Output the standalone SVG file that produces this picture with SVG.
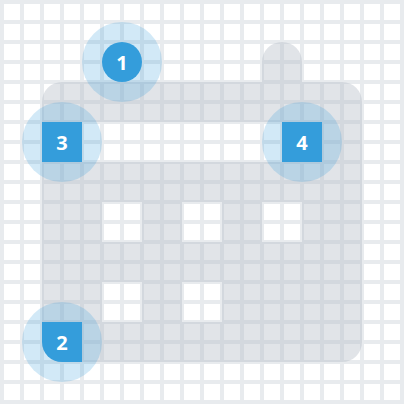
<svg xmlns="http://www.w3.org/2000/svg" width="404" height="404" viewBox="0 0 404 404">
  <defs>
    <style>
      .grid { stroke: #e8ebee; stroke-width: 4; fill: none; }
      .shape { fill: #b4bcc6; fill-opacity: 0.4; fill-rule: evenodd; }
      .halo { fill: #3399db; fill-opacity: 0.22; }
      .mark { fill: #349ddb; }
      .num { fill: #ffffff; font-family: "Open Sans", "Liberation Sans", sans-serif; font-size: 20px; font-weight: 700; text-anchor: middle; dominant-baseline: central; }
    </style>
  </defs>
  <rect width="404" height="404" fill="#ffffff"/>
  <path class="grid" d="M2,0V404M22,0V404M42,0V404M62,0V404M82,0V404M102,0V404M122,0V404M142,0V404M162,0V404M182,0V404M202,0V404M222,0V404M242,0V404M262,0V404M282,0V404M302,0V404M322,0V404M342,0V404M362,0V404M382,0V404M402,0V404M0,2H404M0,22H404M0,42H404M0,62H404M0,82H404M0,102H404M0,122H404M0,142H404M0,162H404M0,182H404M0,202H404M0,222H404M0,242H404M0,262H404M0,282H404M0,302H404M0,322H404M0,342H404M0,362H404M0,382H404M0,402H404"/>
  <path class="shape" d="M62,82 H262 V62 A20,20 0 0 1 302,62 V82 H342 A20,20 0 0 1 362,102 V342 A20,20 0 0 1 342,362 H62 A20,20 0 0 1 42,342 V102 A20,20 0 0 1 62,82 Z M82,122 H282 V162 H82 Z M102,202 H142 V242 H102 Z M182,202 H222 V242 H182 Z M262,202 H302 V242 H262 Z M102,282 H142 V322 H102 Z M182,282 H222 V322 H182 Z"/>
  <g id="connectors"></g>
  <g id="node-1">
    <circle class="halo" cx="122" cy="62" r="40"/>
    <circle class="mark" cx="122" cy="62" r="20"/>
    <text class="num" x="122" y="62">1</text>
  </g>
  <g id="node-3">
    <circle class="halo" cx="62" cy="142" r="40"/>
    <rect class="mark" x="42" y="122" width="40" height="40"/>
    <text class="num" x="62" y="142">3</text>
  </g>
  <g id="node-4">
    <circle class="halo" cx="302" cy="142" r="40"/>
    <rect class="mark" x="282" y="122" width="40" height="40"/>
    <text class="num" x="302" y="142">4</text>
  </g>
  <g id="node-2">
    <circle class="halo" cx="62" cy="342" r="40"/>
    <path class="mark" d="M42,322 H82 V362 H62 A20,20 0 0 1 42,342 Z"/>
    <text class="num" x="62" y="342">2</text>
  </g>
</svg>
